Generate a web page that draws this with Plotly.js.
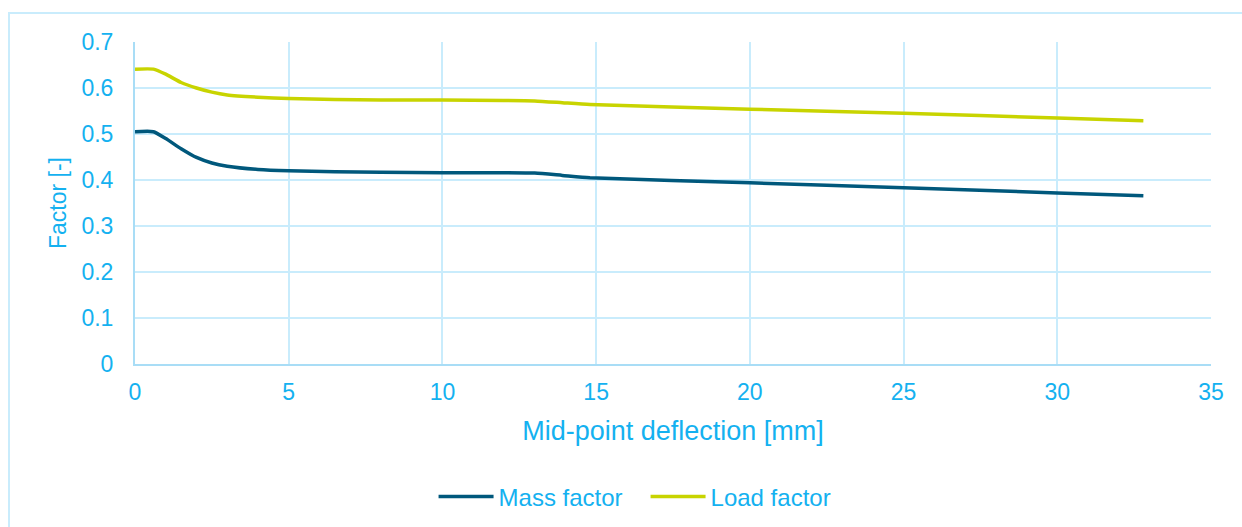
<!DOCTYPE html>
<html>
<head>
<meta charset="utf-8">
<script src="https://cdn.plot.ly/plotly-3.0.1.min.js"></script>
<style>
  html, body { margin:0; padding:0; background:#ffffff; width:1242px; height:527px; overflow:hidden; }
  #frame { position:absolute; left:8px; top:12px; width:1300px; height:600px; border-left:2px solid #c9ecfc; border-top:2px solid #c9ecfc; }
  #chart { position:absolute; left:0; top:0; width:1242px; height:527px; }
</style>
</head>
<body>
<div id="frame"></div>
<div id="chart"></div>
<script>
// Mid-point deflection [mm]
const deflection = [0, 0.6, 1.0, 1.5, 2.0, 2.5, 3.0, 4.0, 5.0, 6.5, 8, 10, 13, 13.9, 14.8, 20, 25, 30, 32.8];
// Mass factor [-]
const massFactor = [0.505, 0.505, 0.490, 0.468, 0.449, 0.437, 0.430, 0.423, 0.420, 0.418, 0.417, 0.416, 0.415, 0.410, 0.405, 0.394, 0.383, 0.372, 0.366];
// Load factor [-]
const loadFactor = [0.641, 0.641, 0.630, 0.612, 0.600, 0.591, 0.585, 0.580, 0.577, 0.575, 0.574, 0.574, 0.572, 0.568, 0.564, 0.554, 0.545, 0.535, 0.529];
const seriesNames = ['Mass factor', 'Load factor'];

const txt = '#14b1f0';
const grid = '#c9ecfc';
const fam = 'Liberation Sans, Arial, sans-serif';
const font = {family: fam, size: 23, color: txt};

const traces = [
  {x: deflection, y: massFactor, name: seriesNames[0], mode: 'lines',
   line: {color: '#00587c', width: 3.5, shape: 'spline', smoothing: 0.5}},
  {x: deflection, y: loadFactor, name: seriesNames[1], mode: 'lines',
   line: {color: '#c8d400', width: 3.5, shape: 'spline', smoothing: 0.5}}
];

const layout = {
  width: 1242, height: 527,
  paper_bgcolor: 'rgba(0,0,0,0)', plot_bgcolor: 'rgba(0,0,0,0)',
  margin: {l: 135, r: 31, t: 42, b: 163, autoexpand: false},
  font: font,
  showlegend: true,
  legend: {orientation: 'h', x: 0.4745, xanchor: 'center', y: -0.413, yanchor: 'middle',
           font: {family: fam, size: 24, color: txt}, itemwidth: 55, entrywidth: 142,
           traceorder: 'normal'},
  xaxis: {
    range: [0, 35], dtick: 5, tick0: 0, showgrid: true, gridcolor: grid, gridwidth: 2,
    zeroline: false, showline: true, linecolor: '#a9ddf6', linewidth: 2,
    ticks: '', ticklabelstandoff: 6, tickfont: font,
    title: {text: 'Mid-point deflection [mm]', font: {family: fam, size: 27, color: txt}, standoff: 18}
  },
  yaxis: {
    range: [0, 0.7], dtick: 0.1, tick0: 0, showgrid: true, gridcolor: grid, gridwidth: 2,
    zeroline: false, showline: true, linecolor: '#a9ddf6', linewidth: 2,
    ticks: '', ticklabelstandoff: 15, tickfont: font,
    title: {text: 'Factor [-]', font: {family: fam, size: 23, color: txt}, standoff: 8}
  }
};

Plotly.newPlot('chart', traces, layout, {displayModeBar: false, staticPlot: true});
</script>
</body>
</html>
